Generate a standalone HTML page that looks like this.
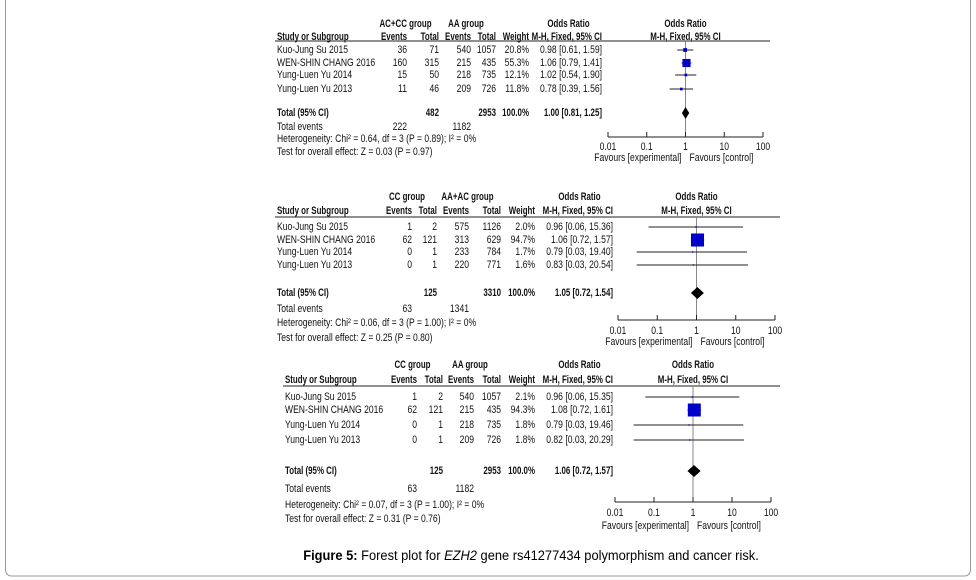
<!DOCTYPE html>
<html><head><meta charset="utf-8"><style>
html,body{margin:0;padding:0;background:#fff;}
svg{display:block;font-family:"Liberation Sans",sans-serif;}
</style></head><body>
<svg id="fig" width="976" height="580" viewBox="0 0 976 580" xmlns="http://www.w3.org/2000/svg">
<rect x="5.5" y="-10" width="965" height="586" rx="6" fill="none" stroke="#999" stroke-width="1"/>
<text x="531" y="560" text-anchor="middle" font-size="14" transform="translate(531,0) scale(0.92,1) translate(-531,0)"><tspan font-weight="bold">Figure 5:</tspan> Forest plot for <tspan font-style="italic">EZH2</tspan> gene rs41277434 polymorphism and cancer risk.</text>
</svg>
<script>
// ---- data ----
const studies = ["Kuo-Jung Su 2015","WEN-SHIN CHANG  2016","Yung-Luen Yu  2014","Yung-Luen Yu 2013"];
const p1Events1 = [36,160,15,11], p1Total1 = [71,315,50,46], p1Events2 = [540,215,218,209], p1Total2 = [1057,435,735,726];
const p1Weight = [20.8,55.3,12.1,11.8];
const p1OR = [0.98,1.06,1.02,0.78], p1Lo = [0.61,0.79,0.54,0.39], p1Hi = [1.59,1.41,1.90,1.56];
const p1Total = {or:1.00, lo:0.81, hi:1.25, n1:482, n2:2953, e1:222, e2:1182};
const p2Events1 = [1,62,0,0], p2Total1 = [2,121,1,1], p2Events2 = [575,313,233,220], p2Total2 = [1126,629,784,771];
const p2Weight = [2.0,94.7,1.7,1.6];
const p2OR = [0.96,1.06,0.79,0.83], p2Lo = [0.06,0.72,0.03,0.03], p2Hi = [15.36,1.57,19.40,20.54];
const p2Total = {or:1.05, lo:0.72, hi:1.54, n1:125, n2:3310, e1:63, e2:1341};
const p3Events1 = [1,62,0,0], p3Total1 = [2,121,1,1], p3Events2 = [540,215,218,209], p3Total2 = [1057,435,735,726];
const p3Weight = [2.1,94.3,1.8,1.8];
const p3OR = [0.96,1.08,0.79,0.82], p3Lo = [0.06,0.72,0.03,0.03], p3Hi = [15.35,1.61,19.46,20.29];
const p3Total = {or:1.06, lo:0.72, hi:1.57, n1:125, n2:2953, e1:63, e2:1182};
const tickLabels = ["0.01","0.1","1","10","100"];
const tickValues = [0.01,0.1,1,10,100];
const groupNames = [["AC+CC group","AA group"],["CC group","AA+AC group"],["CC group","AA group"]];
const hetTexts = ["Heterogeneity: Chi² = 0.64, df = 3 (P = 0.89); I² = 0%","Heterogeneity: Chi² = 0.06, df = 3 (P = 1.00); I² = 0%","Heterogeneity: Chi² = 0.07, df = 3 (P = 1.00); I² = 0%"];
const testTexts = ["Test for overall effect: Z = 0.03 (P = 0.97)","Test for overall effect: Z = 0.25 (P = 0.80)","Test for overall effect: Z = 0.31 (P = 0.76)"];

const panels = [
 {d:[p1Events1,p1Total1,p1Events2,p1Total2,p1Weight,p1OR,p1Lo,p1Hi],t:p1Total,h1:24,h2:37,line:41,rows:[50,63,75,89],tot:113,te:127,het:139,test:152,ax:137,lab:147,fav:158,x0:608,x1:763,c:[407,439,471,496,529],orL:535,st:277,lx0:275,lx1:770},
 {d:[p2Events1,p2Total1,p2Events2,p2Total2,p2Weight,p2OR,p2Lo,p2Hi],t:p2Total,h1:197,h2:211,line:217,rows:[227,240,252,265],tot:293,te:309,het:323,test:338,ax:320,lab:331,fav:342,x0:618,x1:775,c:[412,437,469,501,535],orL:546,st:277,lx0:275,lx1:780},
 {d:[p3Events1,p3Total1,p3Events2,p3Total2,p3Weight,p3OR,p3Lo,p3Hi],t:p3Total,h1:365,h2:380,line:386,rows:[397,410,425,440],tot:471,te:489,het:505,test:519,ax:502,lab:513,fav:526,x0:615,x1:771,c:[417,443,474,501,535],orL:546,st:285,lx0:283,lx1:780}
];
const NS="http://www.w3.org/2000/svg";
const svg=document.getElementById('fig');
function el(tag,attrs,parent){const e=document.createElementNS(NS,tag);for(const k in attrs)e.setAttribute(k,attrs[k]);(parent||svg).appendChild(e);return e;}
function txt(g,x,y,s,anchor,bold,name){
  const sc=bold?0.72:0.78;
  const t=el('text',{x:x,y:y,'font-size':11,'text-anchor':anchor||'start','dominant-baseline':'middle',fill:'#111',transform:`translate(${x},0) scale(${sc},1) translate(${-x},0)`},g);
  if(bold)t.setAttribute('font-weight','bold');
  t.textContent=s;
  
  
  return t;}
function fmt(v){return v.toFixed(2);}
panels.forEach((p,pi)=>{
  const g=el('g',{});
  
  
  const sx=v=>p.x0+(Math.log10(v)+2)/4*(p.x1-p.x0);
  const [e1,n1,e2,n2,w,or,lo,hi]=p.d;
  txt(g,(p.c[0]-35+p.c[1])/2,p.h1,groupNames[pi][0],'middle',true,'group1-header');
  txt(g,(p.c[2]-35+p.c[3])/2,p.h1,groupNames[pi][1],'middle',true,'group2-header');
  txt(g,(p.orL+p.orL+67)/2,p.h1,'Odds Ratio','middle',true,'or-header');
  txt(g,sx(1),p.h1,'Odds Ratio','middle',true,'forest-header');
  txt(g,p.st,p.h2,'Study or Subgroup','start',true,'study-header');
  txt(g,p.c[0],p.h2,'Events','end',true,'events-header');
  txt(g,p.c[1],p.h2,'Total','end',true,'total-header');
  txt(g,p.c[2],p.h2,'Events','end',true,'events-header');
  txt(g,p.c[3],p.h2,'Total','end',true,'total-header');
  txt(g,p.c[4],p.h2,'Weight','end',true,'weight-header');
  txt(g,p.orL+67,p.h2,'M-H, Fixed, 95% CI','end',true,'or-method-header');
  txt(g,sx(1),p.h2,'M-H, Fixed, 95% CI','middle',true,'forest-method-header');
  const hl=el('line',{x1:p.lx0,x2:p.lx1,y1:p.line,y2:p.line,stroke:'#222','stroke-width':1},g);
  
  
  const vl=el('line',{x1:sx(1),x2:sx(1),y1:p.line,y2:p.ax,stroke:'#888','stroke-width':1},g);
  
  
  studies.forEach((s,i)=>{
    const y=p.rows[i];
    txt(g,p.st,y,s,'start',false,'study-name');
    txt(g,p.c[0],y,String(e1[i]),'end',false,'events-1');
    txt(g,p.c[1],y,String(n1[i]),'end',false,'total-1');
    txt(g,p.c[2],y,String(e2[i]),'end',false,'events-2');
    txt(g,p.c[3],y,String(n2[i]),'end',false,'total-2');
    txt(g,p.c[4],y,w[i].toFixed(1)+'%','end',false,'weight');
    txt(g,p.orL+67,y,`${fmt(or[i])} [${fmt(lo[i])}, ${fmt(hi[i])}]`,'end',false,'odds-ratio-ci');
    const ci=el('line',{x1:sx(lo[i]),x2:sx(hi[i]),y1:y,y2:y,stroke:'#222','stroke-width':1},g);
    
    
    const sz=12.5*w[i]/100+1.2;
    const sq=el('rect',{x:sx(or[i])-sz/2,y:y-sz/2,width:sz,height:sz,fill:'#0000c8'},g);
    
    
  });
  const t=p.t;
  txt(g,p.st,p.tot,'Total (95% CI)','start',true,'total-label');
  txt(g,p.c[1],p.tot,String(t.n1),'end',true,'total-n1');
  txt(g,p.c[3],p.tot,String(t.n2),'end',true,'total-n2');
  txt(g,p.c[4],p.tot,'100.0%','end',true,'total-weight');
  txt(g,p.orL+67,p.tot,`${fmt(t.or)} [${fmt(t.lo)}, ${fmt(t.hi)}]`,'end',true,'total-or');
  const dm=el('polygon',{points:`${sx(t.lo)},${p.tot} ${sx(t.or)},${p.tot-6} ${sx(t.hi)},${p.tot} ${sx(t.or)},${p.tot+6}`,fill:'#000'},g);
  
  
  txt(g,p.st,p.te,'Total events','start',false,'total-events-label');
  txt(g,p.c[0],p.te,String(t.e1),'end',false,'total-events-1');
  txt(g,p.c[2],p.te,String(t.e2),'end',false,'total-events-2');
  txt(g,p.st,p.het,hetTexts[pi],'start',false,'heterogeneity');
  txt(g,p.st,p.test,testTexts[pi],'start',false,'overall-effect');
  const ax=el('line',{x1:p.x0,x2:p.x1,y1:p.ax,y2:p.ax,stroke:'#222','stroke-width':1},g);
  
  
  tickValues.forEach((v,k)=>{
    const tk=el('line',{x1:sx(v),x2:sx(v),y1:p.ax-5,y2:p.ax,stroke:'#222','stroke-width':1},g);
    
    
    txt(g,sx(v),p.lab,tickLabels[k],'middle',false,'x-tick-label');
  });
  txt(g,sx(1)-4,p.fav,'Favours [experimental]','end',false,'favours-experimental');
  txt(g,sx(1)+4,p.fav,'Favours [control]','start',false,'favours-control');
});
</script>
</body></html>
